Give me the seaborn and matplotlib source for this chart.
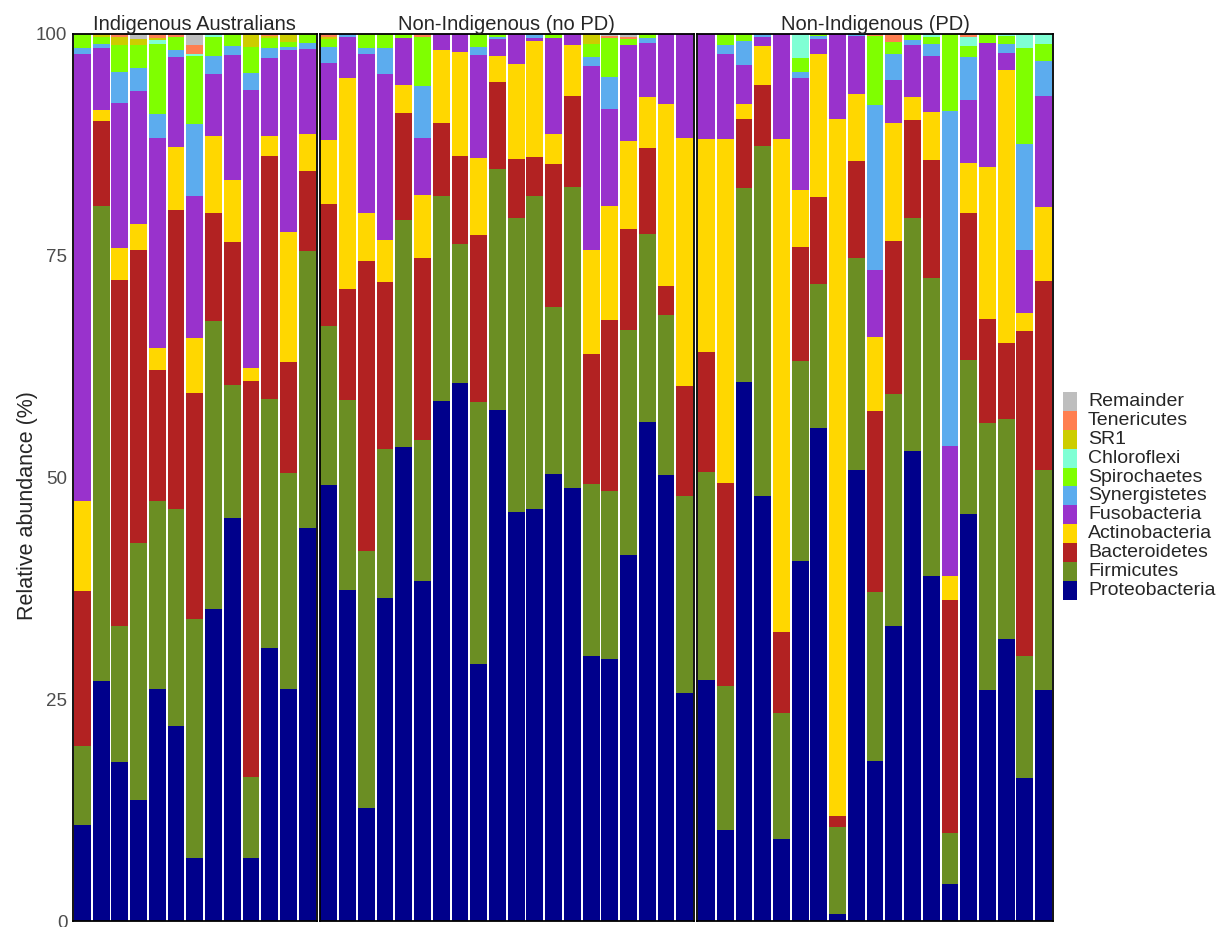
import pandas as pd
import matplotlib
matplotlib.use("Agg")
import matplotlib.pyplot as plt
from matplotlib.patches import Rectangle
import seaborn as sns

# --- data (relative abundance %, one value per sample) ---
groups = ["Indigenous Australians", "Non-Indigenous (no PD)", "Non-Indigenous (PD)"]
group_sizes = [13, 20, 19]

# top of stack -> bottom of stack (also legend order)
phyla = ["Remainder", "Tenericutes", "SR1", "Chloroflexi", "Spirochaetes", "Synergistetes",
         "Fusobacteria", "Actinobacteria", "Bacteroidetes", "Firmicutes", "Proteobacteria"]
colors = ["#BEBEBE", "#FF7F50", "#CDCD00", "#7FFFD4", "#7FFF00", "#5CACEE",
          "#9932CC", "#FFD700", "#B22222", "#6B8E23", "#00008B"]

proteobacteria = [10.8, 27.1, 17.9, 13.6, 26.1, 22.0, 7.1, 35.2, 45.4, 7.1, 30.8, 26.2, 44.3,
                  49.2, 37.3, 12.7, 36.4, 53.4, 38.3, 58.6, 60.7, 29.0, 57.6, 46.1, 46.5, 50.4, 48.8, 29.9, 29.5, 41.3, 56.3, 50.3, 25.7,
                  27.2, 10.3, 60.8, 47.9, 9.3, 40.6, 55.6, 0.8, 50.9, 18.0, 33.3, 53.0, 38.9, 4.2, 45.9, 26.0, 31.8, 16.1, 26.0]
firmicutes = [8.9, 53.5, 15.4, 29.0, 21.2, 24.4, 26.9, 32.4, 15.0, 9.1, 28.1, 24.3, 31.2,
              17.9, 21.4, 29.0, 16.8, 25.6, 15.9, 23.1, 15.6, 29.5, 27.2, 33.1, 35.2, 18.8, 33.9, 19.4, 19.0, 25.3, 21.1, 18.0, 22.2,
              23.4, 16.2, 21.8, 39.5, 14.1, 22.5, 16.2, 9.8, 23.9, 19.1, 26.1, 26.2, 33.6, 5.7, 17.4, 30.2, 24.8, 13.8, 24.8]
bacteroidetes = [17.5, 9.6, 39.0, 33.0, 14.8, 33.8, 25.5, 12.2, 16.2, 44.7, 27.3, 12.5, 9.1,
                 13.7, 12.6, 32.7, 18.8, 12.1, 20.5, 8.3, 10.0, 18.8, 9.8, 6.7, 4.4, 16.2, 10.3, 14.6, 19.3, 11.4, 9.8, 3.3, 12.4,
                 13.6, 22.9, 7.8, 6.8, 9.2, 12.9, 9.8, 1.2, 10.9, 20.4, 17.3, 11.1, 13.3, 26.3, 16.5, 11.7, 8.6, 36.6, 21.3]
actinobacteria = [10.1, 1.2, 3.6, 3.0, 2.5, 7.1, 6.2, 8.7, 6.9, 1.5, 2.3, 14.7, 4.1,
                  7.2, 23.7, 5.4, 4.8, 3.1, 7.1, 8.2, 11.7, 8.7, 2.9, 10.7, 13.1, 3.3, 5.8, 11.8, 12.8, 9.9, 5.7, 20.5, 28.0,
                  24.0, 38.8, 1.7, 4.4, 55.6, 6.4, 16.1, 78.6, 7.5, 8.3, 13.3, 2.6, 5.4, 2.7, 5.7, 17.1, 30.7, 2.0, 8.4]
fusobacteria = [50.4, 7.0, 16.3, 15.0, 23.7, 10.1, 16.0, 7.0, 14.1, 31.3, 8.8, 20.5, 9.6,
                8.7, 4.7, 17.9, 18.7, 5.4, 6.5, 1.8, 2.0, 11.6, 1.9, 3.4, 0.4, 10.9, 1.2, 20.7, 11.0, 10.9, 6.1, 7.9, 11.7,
                11.8, 9.5, 4.4, 1.1, 11.8, 12.6, 1.7, 9.6, 6.6, 7.6, 4.8, 5.9, 6.3, 14.7, 7.1, 14.0, 2.0, 7.1, 12.5]
synergistetes = [0.7, 0.5, 3.5, 2.6, 2.7, 0.8, 8.2, 2.0, 1.0, 1.9, 1.1, 0.3, 0.7,
                 1.8, 0.3, 0.7, 2.9, 0, 5.8, 0, 0, 0.9, 0.3, 0, 0.4, 0, 0, 1.0, 3.5, 0, 0.5, 0, 0,
                 0, 1.1, 2.7, 0.3, 0, 0.7, 0.4, 0, 0.2, 18.6, 2.9, 0.5, 1.4, 37.7, 4.8, 0, 1.0, 12.0, 4.0]
spirochaetes = [1.6, 0.8, 3.1, 2.6, 7.9, 1.5, 7.6, 2.2, 1.4, 2.9, 1.2, 0.6, 1.0,
                0.9, 0, 1.6, 1.6, 0.4, 5.6, 0, 0, 1.5, 0.3, 0, 0, 0.4, 0, 1.5, 4.4, 0.6, 0.5, 0, 0,
                0, 1.2, 0.8, 0, 0, 1.6, 0.2, 0, 0, 7.8, 1.4, 0.7, 0.8, 8.7, 1.2, 1.0, 0.9, 10.8, 1.9]
chloroflexi = [0, 0, 0, 0, 0.4, 0, 0.3, 0.3, 0, 0, 0, 0, 0,
               0, 0, 0, 0, 0, 0, 0, 0, 0, 0, 0, 0, 0, 0, 0, 0, 0, 0, 0, 0,
               0, 0, 0, 0, 0, 2.7, 0, 0, 0, 0, 0, 0, 0.3, 0, 1.1, 0, 0.2, 1.6, 1.1]
sr1 = [0, 0.3, 0.9, 0.6, 0.3, 0, 0, 0, 0, 1.5, 0.2, 0.9, 0,
       0.3, 0, 0, 0, 0, 0, 0, 0, 0, 0, 0, 0, 0, 0, 1.1, 0, 0, 0, 0, 0,
       0, 0, 0, 0, 0, 0, 0, 0, 0, 0, 0, 0, 0, 0, 0, 0, 0, 0, 0]
tenericutes = [0, 0, 0.3, 0, 0.4, 0.3, 1.0, 0, 0, 0, 0.2, 0, 0,
               0.3, 0, 0, 0, 0, 0.3, 0, 0, 0, 0, 0, 0, 0, 0, 0, 0.3, 0.3, 0, 0, 0,
               0, 0, 0, 0, 0, 0, 0, 0, 0, 0.2, 0.9, 0, 0, 0, 0.3, 0, 0, 0, 0]
remainder = [0, 0, 0, 0.6, 0, 0, 1.2, 0, 0, 0, 0, 0, 0,
             0, 0, 0, 0, 0, 0, 0, 0, 0, 0, 0, 0, 0, 0, 0, 0.2, 0.3, 0, 0, 0,
             0, 0, 0, 0, 0, 0, 0, 0, 0, 0, 0, 0, 0, 0, 0, 0, 0, 0, 0]

abundance = {
    "Proteobacteria": proteobacteria, "Firmicutes": firmicutes, "Bacteroidetes": bacteroidetes,
    "Actinobacteria": actinobacteria, "Fusobacteria": fusobacteria, "Synergistetes": synergistetes,
    "Spirochaetes": spirochaetes, "Chloroflexi": chloroflexi, "SR1": sr1,
    "Tenericutes": tenericutes, "Remainder": remainder,
}

# long table for seaborn
rows = []
start = 0
for g, n in zip(groups, group_sizes):
    for i in range(n):
        for p in phyla:
            rows.append([g, i, p, abundance[p][start + i]])
    start += n
df = pd.DataFrame(rows, columns=["group", "sample", "phylum", "abundance"])

# --- plot ---
sns.set_theme(style="white")
plt.rcParams["font.family"] = ["Liberation Sans", "DejaVu Sans"]

W, H = 1228, 927
fig = plt.figure(figsize=(W / 100, H / 100), dpi=100)

left, right, top, bottom, gap = 73, 1053, 34, 921, 3
unit = (right - left - gap * (len(groups) - 1)) / sum(group_sizes)
palette = dict(zip(phyla, colors))

x0 = left
for k, (g, n) in enumerate(zip(groups, group_sizes)):
    w = n * unit
    ax = fig.add_axes([x0 / W, 1 - bottom / H, w / W, (bottom - top) / H])
    sns.histplot(data=df[df["group"] == g], x="sample", weights="abundance",
                 hue="phylum", hue_order=phyla, palette=palette,
                 multiple="stack", discrete=True, shrink=0.9,
                 linewidth=0, alpha=1, legend=False, ax=ax)
    ax.set_xlim(-0.5, n - 0.5)
    ax.set_ylim(0, 100)
    ax.set_xticks([])
    ax.set_xlabel("")
    ax.set_ylabel("")
    ax.set_title(g, fontsize=14.5, pad=3)
    if k == 0:
        ax.set_yticks([0, 25, 50, 75, 100])
        ax.tick_params(axis="y", length=0, pad=4, labelsize=13.5, labelcolor="#4D4D4D")
    else:
        ax.set_yticks([])
    for s in ax.spines.values():
        s.set_visible(True)
        s.set_color("black")
        s.set_linewidth(1.3)
    x0 += w + gap

fig.text(28 / W, 1 - 506 / H, "Relative abundance (%)", rotation=90,
         ha="center", va="center", fontsize=15.5)

# legend (no title), keys stacked as in the original
key_h = 18.9
for i, (p, c) in enumerate(zip(phyla, colors)):
    yt = 392 + i * key_h
    fig.add_artist(Rectangle((1063 / W, 1 - (yt + key_h) / H), 14 / W, key_h / H,
                             transform=fig.transFigure, facecolor=c, edgecolor="none"))
    fig.text(1088 / W, 1 - (yt + key_h / 2) / H, p, fontsize=14, ha="left", va="center")

fig.savefig("out.png", dpi=100)
